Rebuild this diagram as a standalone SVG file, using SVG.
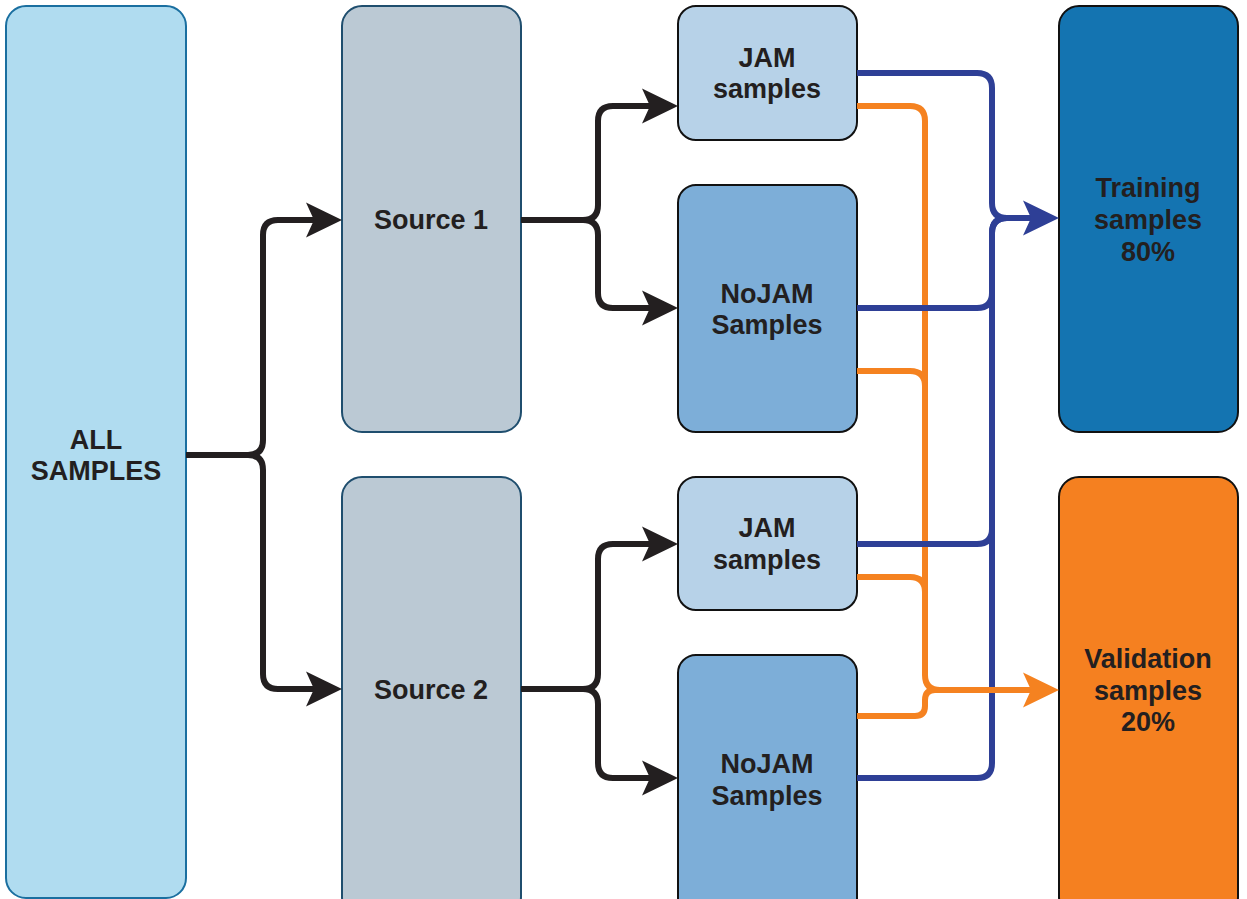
<svg xmlns="http://www.w3.org/2000/svg" width="1247" height="899" viewBox="0 0 1247 899">
<defs>
<style>
.t{font-family:"Liberation Sans",Arial,Helvetica,sans-serif;font-weight:bold;font-size:27px;fill:#231f20;text-anchor:middle}
.n{stroke-width:2}
.c{fill:none;stroke-width:6;stroke-linejoin:round}
.k{stroke:#231f20}
.b{stroke:#2e3f96}
.o{stroke:#f58220}
</style>
<marker id="ak" markerUnits="userSpaceOnUse" markerWidth="36" markerHeight="36" viewBox="0 0 36 36" refX="24" refY="18" orient="auto"><path d="M0,0.5 L36,18 L0,35.5 L8,18 Z" fill="#231f20"/></marker>
<marker id="ab" markerUnits="userSpaceOnUse" markerWidth="36" markerHeight="36" viewBox="0 0 36 36" refX="24" refY="18" orient="auto"><path d="M0,0.5 L36,18 L0,35.5 L8,18 Z" fill="#2e3f96"/></marker>
<marker id="ao" markerUnits="userSpaceOnUse" markerWidth="36" markerHeight="36" viewBox="0 0 36 36" refX="24" refY="18" orient="auto"><path d="M0,0.5 L36,18 L0,35.5 L8,18 Z" fill="#f58220"/></marker>
</defs>
<rect width="1247" height="899" fill="#ffffff"/>
<g id="all-samples"><rect class="n" x="6" y="6" width="180" height="892" rx="20" fill="#b0dcf0" stroke="#1a6fa0"/><text class="t" x="96" y="449">ALL</text><text class="t" x="96" y="480">SAMPLES</text></g>
<g id="source1"><rect class="n" x="342" y="6" width="179" height="426" rx="20" fill="#bbc9d4" stroke="#1f4e6e"/><text class="t" x="431" y="229">Source 1</text></g>
<g id="source2"><rect class="n" x="342" y="477" width="179" height="440" rx="20" fill="#bbc9d4" stroke="#1f4e6e"/><text class="t" x="431" y="699">Source 2</text></g>
<g id="jam1"><rect class="n" x="678" y="6" width="179" height="134" rx="18" fill="#b7d2e8" stroke="#111"/><text class="t" x="767" y="67">JAM</text><text class="t" x="767" y="98">samples</text></g>
<g id="nojam1"><rect class="n" x="678" y="185" width="179" height="247" rx="18" fill="#7daed8" stroke="#111"/><text class="t" x="767" y="303">NoJAM</text><text class="t" x="767" y="334">Samples</text></g>
<g id="jam2"><rect class="n" x="678" y="477" width="179" height="133" rx="18" fill="#b7d2e8" stroke="#111"/><text class="t" x="767" y="537">JAM</text><text class="t" x="767" y="569">samples</text></g>
<g id="nojam2"><rect class="n" x="678" y="655" width="179" height="262" rx="18" fill="#7daed8" stroke="#111"/><text class="t" x="767" y="773">NoJAM</text><text class="t" x="767" y="805">Samples</text></g>
<g id="training"><rect class="n" x="1059" y="6" width="179" height="426" rx="20" fill="#1474b1" stroke="#111"/><text class="t" x="1148" y="197">Training</text><text class="t" x="1148" y="229">samples</text><text class="t" x="1148" y="261">80%</text></g>
<g id="validation"><rect class="n" x="1059" y="477" width="179" height="440" rx="20" fill="#f58020" stroke="#111"/><text class="t" x="1148" y="668">Validation</text><text class="t" x="1148" y="700">samples</text><text class="t" x="1148" y="731">20%</text></g>
<g id="connectors">
<path class="c k" d="M186,455 H248 Q263,455 263,440 V235 Q263,220 278,220 H330" marker-end="url(#ak)"/>
<path class="c k" d="M186,455 H248 Q263,455 263,470 V674 Q263,689 278,689 H330" marker-end="url(#ak)"/>
<path class="c k" d="M521,220 H583 Q598,220 598,205 V121 Q598,106 613,106 H666" marker-end="url(#ak)"/>
<path class="c k" d="M521,220 H583 Q598,220 598,235 V293 Q598,308 613,308 H666" marker-end="url(#ak)"/>
<path class="c k" d="M521,689 H583 Q598,689 598,674 V559 Q598,544 613,544 H666" marker-end="url(#ak)"/>
<path class="c k" d="M521,689 H583 Q598,689 598,704 V763 Q598,778 613,778 H666" marker-end="url(#ak)"/>
<path class="c o" d="M857,106 H910 Q925,106 925,121 V675 Q925,690 940,690"/>
<path class="c o" d="M857,371 H910 Q925,371 925,386 V675"/>
<path class="c o" d="M857,577 H910 Q925,577 925,592 V675"/>
<path class="c o" d="M857,716 H915 Q925,716 925,706 V700 Q925,690 935,690"/>
<path class="c b" d="M857,73 H977 Q992,73 992,88 V203 Q992,218 1007,218 H1047" marker-end="url(#ab)"/>
<path class="c b" d="M857,308 H977 Q992,308 992,293 V233 Q992,218 1007,218"/>
<path class="c b" d="M857,544 H977 Q992,544 992,529 V233"/>
<path class="c b" d="M857,778 H977 Q992,778 992,763 V233 Q992,218 1007,218"/>
<path class="c o" d="M935,690 H1047" marker-end="url(#ao)"/>
</g>
</svg>
